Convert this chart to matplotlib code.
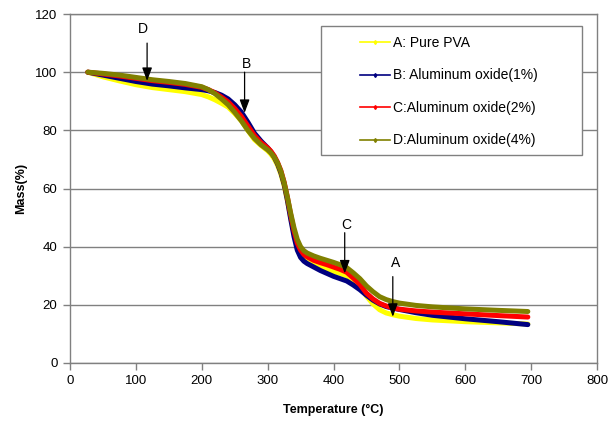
import matplotlib.pyplot as plt
from matplotlib.patches import Rectangle

plt.rcParams['font.family'] = ['Liberation Sans', 'DejaVu Sans']

# TGA data: temperature (C) and residual mass (%)
temp = [27, 50, 75, 100, 125, 150, 175, 200, 210, 220, 230, 240, 250, 260, 270, 280,
        290, 300, 305, 310, 315, 320, 325, 330, 335, 340, 345, 350, 355, 360, 370, 380,
        390, 400, 410, 420, 430, 440, 450, 460, 470, 480, 490, 500, 525, 550, 600, 650, 695]

mass_pva = [100, 98.4, 97.0, 95.7, 94.7, 94.0, 93.3, 92.3, 91.5, 90.5, 89.3, 88.0, 85.8, 83.3, 80.0, 76.8,
            74.8, 73.0, 71.8, 70.2, 68.0, 65.0, 61.0, 55.8, 50.0, 44.5, 40.0, 37.5, 36.2, 35.3, 34.0, 33.0,
            32.2, 31.4, 30.8, 30.0, 28.3, 26.3, 23.0, 20.3, 18.3, 17.2, 16.6, 16.1, 15.3, 14.8, 14.2, 13.8, 13.4]
mass_al1 = [100, 99.0, 97.9, 96.8, 95.9, 95.3, 94.6, 94.0, 93.6, 93.0, 92.1, 90.8, 88.8, 86.3, 82.8, 79.0,
            76.3, 74.0, 72.6, 70.8, 68.5, 65.5, 61.5, 56.0, 49.5, 43.5, 38.8, 36.3, 35.0, 34.2, 33.0, 31.8,
            30.8, 29.8, 29.0, 28.2, 26.8, 25.2, 23.3, 21.6, 20.3, 19.4, 18.9, 18.4, 17.3, 16.4, 15.2, 14.2, 13.2]
mass_al2 = [100, 99.4, 98.7, 97.9, 97.1, 96.5, 95.8, 94.8, 94.0, 92.9, 91.4, 89.8, 87.5, 84.8, 81.5, 78.2,
            75.8, 74.0, 72.8, 71.2, 69.0, 66.2, 62.2, 57.0, 51.0, 45.5, 41.2, 38.8, 37.3, 36.5, 35.3, 34.5,
            33.8, 33.0, 32.2, 31.2, 29.2, 27.0, 24.0, 22.0, 20.5, 19.6, 18.9, 18.5, 17.9, 17.5, 16.9, 16.3, 15.8]
mass_al4 = [100, 99.6, 99.0, 98.2, 97.4, 96.8, 96.1, 95.0, 94.0, 92.6, 90.8, 88.8, 86.2, 83.3, 80.0, 77.2,
            75.0, 73.3, 72.2, 70.8, 68.8, 66.0, 62.0, 57.0, 51.5, 46.5, 42.5, 40.0, 38.6, 37.8, 36.8, 36.0,
            35.3, 34.6, 33.8, 32.8, 31.0, 29.0, 26.5, 24.5, 22.8, 21.8, 21.1, 20.6, 19.8, 19.3, 18.6, 18.1, 17.7]

labels = ['A: Pure PVA', 'B: Aluminum oxide(1%)', 'C:Aluminum oxide(2%)', 'D:Aluminum oxide(4%)']
colors = ['#ffff00', '#000080', '#ff0000', '#808000']

# arrow markers: letter, text x, text y, arrow x, arrow start, arrow tip
marks = [('D', 111, 114.8, 117, 110.0, 97.0),
         ('B', 268, 102.8, 265, 100.0, 86.0),
         ('C', 420, 47.6, 417, 44.8, 30.8),
         ('A', 494, 34.5, 490, 29.7, 15.9)]

fig = plt.figure(figsize=(6.1, 4.21), dpi=100)
ax = fig.add_axes([0.1148, 0.1378, 0.8639, 0.8289])

series = [mass_pva, mass_al1, mass_al2, mass_al4]
for m, c in zip(series, colors):
    ax.plot(temp, m, color=c, lw=3.6, solid_capstyle='round', solid_joinstyle='round', zorder=3)

ax.set_xlim(0, 800)
ax.set_ylim(0, 120)
ax.set_xticks(range(0, 801, 100))
ax.set_yticks(range(0, 121, 20))
ax.yaxis.grid(True, color='#808080', lw=1)
ax.set_axisbelow(True)
for s in ax.spines.values():
    s.set_color('#808080')
    s.set_linewidth(1)
ax.tick_params(direction='out', length=5, width=1, color='#808080', labelsize=9.5, pad=4)
ax.set_xlabel('Temperature (°C)', fontsize=9, fontweight='bold', labelpad=12)
ax.set_ylabel('Mass(%)', fontsize=9, fontweight='bold', labelpad=6)

for letter, tx, ty, t, y0, y1 in marks:
    ax.annotate('', xy=(t, y1), xytext=(t, y0),
                arrowprops=dict(arrowstyle='-|>,head_length=0.8,head_width=0.3',
                                color='black', lw=0.9, shrinkA=0, shrinkB=0),
                zorder=5)
    ax.text(tx, ty, letter, ha='center', va='center', fontsize=10, zorder=5)

# legend box
ax.add_patch(Rectangle((0.4763, 0.596), 0.4953, 0.3696, transform=ax.transAxes,
                       facecolor='white', edgecolor='#808080', lw=1, zorder=6))
handles = [plt.Line2D([], [], color=c, lw=1.2, marker='d', markersize=2) for c in colors]
leg = ax.legend(handles, labels, loc='upper left', bbox_to_anchor=(0.55, 0.937),
                frameon=False, fontsize=10, handlelength=2.2, handletextpad=0.15,
                labelspacing=1.33, borderpad=0, borderaxespad=0)
leg.set_zorder(7)

fig.savefig('out.png', dpi=100)
